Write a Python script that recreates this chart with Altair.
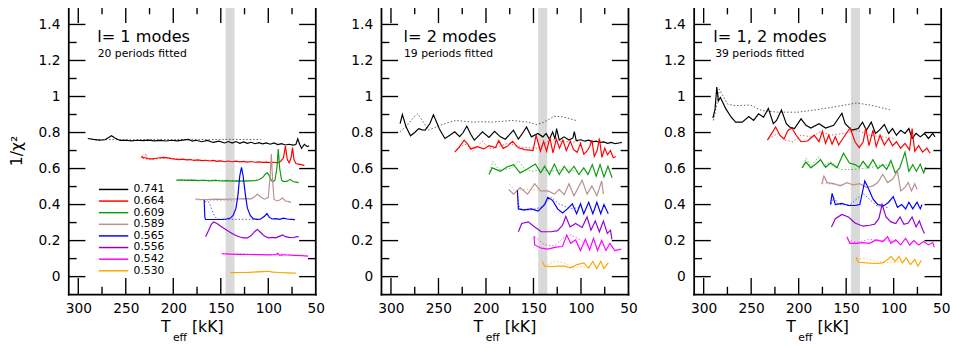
import altair as alt
import pandas as pd

FONT = "DejaVu Sans"
MASSES = ["0.741", "0.664", "0.609", "0.589", "0.565", "0.556", "0.542", "0.530"]
COLORS = ["#000000", "#ff0000", "#0f9a0f", "#bc8f8f", "#0000ff", "#9400d3", "#ff00ff", "#ffa500"]
TITLES = ["l= 1 modes", "l= 2 modes", "l= 1, 2 modes"]
SUBTITLES = ["20 periods fitted", "19 periods fitted", "39 periods fitted"]
X_LABELS = [300, 250, 200, 150, 100, 50]
Y_LABELS = [0, 0.2, 0.4, 0.6, 0.8, 1.0, 1.2, 1.4]
X_MAJOR = [300, 250, 200, 150, 100]
X_MINOR = [275, 225, 175, 125, 75]
Y_MAJOR = [0, 0.2, 0.4, 0.6, 0.8, 1.0, 1.2, 1.4]
Y_MINOR = [0.1, 0.3, 0.5, 0.7, 0.9, 1.1, 1.3]
BAND = [145, 135.5]

# ---------------- panel 1 : l = 1 ----------------
L1_741_T = [290, 284, 278, 272, 268, 265, 261, 256, 250, 244, 238, 232, 226, 220, 214, 208, 202, 196, 190, 184,
            180, 176, 170, 164, 158, 152, 146, 142, 138, 134, 130, 126, 122, 118, 114, 110, 106, 102, 98, 94,
            90, 86, 82, 78, 74, 71, 69, 67, 65, 62, 59, 57]
L1_741_V = [0.767, 0.762, 0.758, 0.760, 0.772, 0.782, 0.768, 0.756, 0.757, 0.754, 0.757, 0.755, 0.758, 0.754, 0.756,
            0.753, 0.757, 0.754, 0.758, 0.762, 0.752, 0.757, 0.749, 0.756, 0.745, 0.752, 0.742, 0.750, 0.741, 0.750,
            0.740, 0.748, 0.740, 0.746, 0.738, 0.744, 0.737, 0.742, 0.735, 0.742, 0.733, 0.738, 0.731, 0.735, 0.730,
            0.733, 0.765, 0.735, 0.712, 0.735, 0.722, 0.727]
L1_741_DT = [282, 262, 242, 222, 202, 182, 162, 142, 122, 108]
L1_741_DV = [0.760, 0.761, 0.760, 0.762, 0.761, 0.762, 0.761, 0.762, 0.761, 0.761]
L1_664_T = [234, 230, 226, 222, 218, 214, 210, 206, 202, 198, 194, 190, 186, 182, 178, 174, 170, 166, 162, 158,
            154, 150, 146, 142, 138, 134, 130, 126, 122, 118, 114, 110, 106, 102, 98, 94, 90, 87, 84, 82, 80, 78,
            76, 74.5, 73, 71, 68, 65, 62]
L1_664_V = [0.665, 0.660, 0.655, 0.654, 0.657, 0.660, 0.662, 0.659, 0.655, 0.652, 0.650, 0.652, 0.648, 0.650, 0.645,
            0.648, 0.644, 0.646, 0.642, 0.645, 0.640, 0.643, 0.638, 0.642, 0.638, 0.641, 0.637, 0.640, 0.636, 0.639,
            0.635, 0.637, 0.634, 0.636, 0.633, 0.635, 0.632, 0.640, 0.660, 0.725, 0.650, 0.632, 0.660, 0.716, 0.650,
            0.628, 0.625, 0.622, 0.616]
L1_664_DT = [233, 230, 227, 229, 233, 231, 226, 220, 212, 204, 196, 188, 180, 172, 164, 156, 150]
L1_664_DV = [0.668, 0.678, 0.676, 0.664, 0.660, 0.655, 0.650, 0.652, 0.656, 0.658, 0.654, 0.650, 0.648, 0.646, 0.645,
             0.644, 0.642]
L1_609_T = [197, 192, 186, 180, 174, 168, 162, 156, 150, 144, 138, 132, 126, 120, 114, 110, 106, 103, 101, 99, 97,
            95, 93, 91, 89.5, 88, 86, 84, 80, 77, 74, 71, 68]
L1_609_V = [0.535, 0.537, 0.534, 0.536, 0.533, 0.535, 0.532, 0.534, 0.531, 0.533, 0.530, 0.532, 0.530, 0.532, 0.533,
            0.538, 0.550, 0.570, 0.576, 0.560, 0.535, 0.528, 0.535, 0.600, 0.708, 0.600, 0.535, 0.528, 0.530, 0.540,
            0.528, 0.525, 0.522]
L1_609_DT = [196, 185, 175, 165, 155, 145, 135, 125, 115]
L1_609_DV = [0.537, 0.538, 0.536, 0.535, 0.536, 0.534, 0.534, 0.535, 0.534]
L1_589_T = [177, 172, 166, 160, 154, 148, 142, 136, 130, 124, 118, 114, 111.5, 108, 104, 100, 98, 96.8, 95.5, 94,
            91, 88, 85, 82, 79, 76]
L1_589_V = [0.431, 0.429, 0.428, 0.429, 0.430, 0.429, 0.430, 0.431, 0.432, 0.433, 0.432, 0.445, 0.458, 0.442, 0.430,
            0.440, 0.560, 0.680, 0.540, 0.430, 0.420, 0.425, 0.436, 0.420, 0.418, 0.412]
L1_589_DT = [176, 165, 155, 145, 135]
L1_589_DV = [0.425, 0.423, 0.422, 0.422, 0.421]
L1_565_T = [167.5, 166.8, 166, 160, 154, 148, 144, 140, 137, 134, 132, 130, 128.2, 126.5, 124, 122, 119, 116, 112,
            108, 104, 101.5, 99, 96, 92, 88, 84, 80, 76, 72]
L1_565_V = [0.425, 0.330, 0.318, 0.317, 0.317, 0.318, 0.320, 0.325, 0.340, 0.380, 0.450, 0.560, 0.607, 0.560, 0.450,
            0.380, 0.340, 0.322, 0.318, 0.320, 0.335, 0.350, 0.330, 0.320, 0.322, 0.318, 0.325, 0.320, 0.318, 0.316]
L1_565_DT = [167, 163, 161, 158, 155, 152, 145, 135, 125, 115, 108]
L1_565_DV = [0.418, 0.416, 0.395, 0.350, 0.326, 0.319, 0.318, 0.318, 0.318, 0.318, 0.318]
L1_556_T = [166, 163, 160, 157.5, 154, 150, 146, 142, 138, 134, 130, 126, 122, 118, 114, 111.5, 108, 104, 100, 96,
            92, 88, 85, 82, 78, 74, 70, 68]
L1_556_V = [0.222, 0.255, 0.290, 0.303, 0.295, 0.280, 0.266, 0.252, 0.240, 0.228, 0.220, 0.215, 0.215, 0.228, 0.252,
            0.262, 0.245, 0.225, 0.215, 0.218, 0.215, 0.225, 0.232, 0.222, 0.218, 0.216, 0.222, 0.222]
L1_542_T = [149, 140, 130, 120, 110, 100, 92, 90, 88, 85, 80, 72, 65, 58]
L1_542_V = [0.127, 0.125, 0.124, 0.123, 0.122, 0.121, 0.122, 0.130, 0.118, 0.121, 0.120, 0.118, 0.117, 0.114]
L1_542_DT = [148, 130, 115, 100, 88, 75]
L1_542_DV = [0.128, 0.126, 0.124, 0.122, 0.125, 0.121]
L1_530_T = [140, 130, 120, 112, 106, 100, 95, 88, 80, 71]
L1_530_V = [0.022, 0.023, 0.024, 0.026, 0.028, 0.030, 0.025, 0.023, 0.021, 0.019]
L1_530_DT = [138, 125, 110, 100, 92]
L1_530_DV = [0.022, 0.024, 0.027, 0.029, 0.022]

# ---------------- panel 2 : l = 2 ----------------
L2_741_T = [290.4, 288, 284, 279.4, 275, 270.8, 267, 264, 259, 255.3, 249, 243.2, 238, 232.9, 227.7, 224, 220.2,
            216, 212.3, 208, 203.7, 196.8, 191, 184.8, 179.7, 175, 171.1, 165.9, 161, 157.3, 152.2, 145.3, 140.1,
            136.7, 133.2, 129.8, 127.4, 125.7, 122.9, 117.8, 112.6, 108.5, 107, 105, 100, 96, 92, 88, 84, 80, 76,
            72, 68, 64, 60, 57]
L2_741_V = [0.849, 0.900, 0.830, 0.782, 0.800, 0.822, 0.815, 0.813, 0.850, 0.898, 0.820, 0.767, 0.785, 0.804, 0.777,
            0.800, 0.835, 0.790, 0.758, 0.780, 0.804, 0.773, 0.807, 0.776, 0.763, 0.790, 0.813, 0.763, 0.800, 0.831,
            0.776, 0.795, 0.776, 0.795, 0.763, 0.804, 0.763, 0.822, 0.758, 0.776, 0.758, 0.770, 0.805, 0.755, 0.760,
            0.752, 0.758, 0.748, 0.752, 0.745, 0.748, 0.740, 0.745, 0.738, 0.742, 0.745]
L2_741_DT = [290.4, 283, 276, 271.8, 266, 260.5, 255, 248.5, 240, 231.4, 222, 214.2, 204, 193.6, 183, 173, 164,
             155.8, 147.2, 140, 133, 128.3, 120, 111.1, 104]
L2_741_DV = [0.804, 0.840, 0.885, 0.904, 0.860, 0.813, 0.825, 0.840, 0.855, 0.867, 0.862, 0.858, 0.860, 0.858, 0.862,
             0.867, 0.862, 0.858, 0.844, 0.855, 0.875, 0.890, 0.888, 0.876, 0.865]
L2_664_T = [232.9, 228, 222.9, 219, 216, 209.2, 202.3, 196.8, 190, 186.5, 182, 178, 172, 166, 159, 154, 150.5, 147.2,
            142.7, 139.3, 136.2, 132.8, 129.4, 126, 122.6, 119.1, 115.4, 111.2, 107.8, 104, 100.5, 97, 94, 91, 88.5,
            86, 83, 80.6, 78, 75, 72, 69, 66, 63.4]
L2_664_V = [0.691, 0.720, 0.758, 0.735, 0.709, 0.722, 0.709, 0.727, 0.716, 0.755, 0.712, 0.722, 0.751, 0.715, 0.705,
            0.702, 0.700, 0.785, 0.696, 0.751, 0.696, 0.771, 0.687, 0.764, 0.713, 0.758, 0.700, 0.751, 0.705, 0.690,
            0.740, 0.680, 0.695, 0.720, 0.758, 0.667, 0.700, 0.767, 0.662, 0.713, 0.676, 0.700, 0.660, 0.667]
L2_664_DT = [231.3, 226, 221, 214, 209, 203.7, 198, 193.4, 185, 176, 169, 162.4, 154, 145.3, 138, 131.5, 124, 117.8,
             110, 104, 98]
L2_664_DV = [0.705, 0.725, 0.735, 0.696, 0.725, 0.751, 0.720, 0.709, 0.725, 0.742, 0.725, 0.718, 0.715, 0.713, 0.740,
             0.764, 0.750, 0.753, 0.745, 0.751, 0.740]
L2_609_T = [196.8, 193.4, 184.8, 177.9, 171, 164.1, 157.3, 148, 142.5, 138.3, 133.2, 128, 122.9, 117.7, 112.6, 107.4,
            102.2, 97.1, 92.6, 88.1, 84, 79.9, 75.8, 71.6, 67.2]
L2_609_V = [0.567, 0.604, 0.585, 0.609, 0.622, 0.576, 0.595, 0.625, 0.576, 0.613, 0.567, 0.625, 0.567, 0.613, 0.576,
            0.613, 0.567, 0.604, 0.567, 0.622, 0.558, 0.622, 0.553, 0.613, 0.549]
L2_609_DT = [196.1, 192.7, 186.5, 179.6, 172.7, 165.9, 159, 150.4, 141.8, 131.5, 117.7, 104]
L2_609_DV = [0.585, 0.640, 0.595, 0.595, 0.604, 0.644, 0.595, 0.585, 0.595, 0.585, 0.595, 0.585]
L2_589_T = [176.2, 171, 164.1, 156.2, 148.7, 142.5, 134.9, 128, 122.9, 117.7, 112.6, 107.4, 98.8, 93.6, 88.5, 83.3,
            78.2, 76.4]
L2_589_V = [0.485, 0.458, 0.495, 0.458, 0.516, 0.476, 0.476, 0.458, 0.485, 0.455, 0.516, 0.449, 0.535, 0.458, 0.504,
            0.449, 0.531, 0.458]
L2_589_DT = [175.5, 169.3, 159, 145.2]
L2_589_DV = [0.513, 0.476, 0.485, 0.480]
L2_565_T = [166.9, 165.9, 160.7, 152.1, 145.2, 138.3, 134.9, 129.7, 124.6, 119.4, 114.3, 109.1, 104.6, 100.5, 97.1,
            91.9, 87.5, 83.3, 79.2, 75.8, 71.3]
L2_565_V = [0.480, 0.376, 0.371, 0.376, 0.364, 0.400, 0.440, 0.422, 0.376, 0.353, 0.376, 0.404, 0.349, 0.404, 0.349,
            0.413, 0.349, 0.413, 0.349, 0.400, 0.349]
L2_565_DT = [166.9, 165.9, 160.7, 152.1, 141.8, 131.5, 122.9, 110.8, 100.5]
L2_565_DV = [0.467, 0.395, 0.367, 0.371, 0.385, 0.440, 0.404, 0.376, 0.385]
L2_556_T = [165.9, 162.4, 155.5, 148.7, 141.8, 131.5, 124.6, 119.4, 116, 111.5, 105.7, 98.8, 93.6, 89.5, 85, 80.6,
            76.4, 72.3, 68.9, 67.5]
L2_556_V = [0.249, 0.295, 0.304, 0.276, 0.249, 0.249, 0.255, 0.285, 0.335, 0.276, 0.295, 0.273, 0.331, 0.258, 0.309,
            0.249, 0.309, 0.240, 0.258, 0.207]
L2_542_T = [149.4, 148.7, 141.8, 134.9, 126.3, 119.4, 115, 110.8, 105.7, 100.5, 95.4, 90.9, 86.8, 82.6, 78.2, 73.7,
            69.6, 64.4, 57.5]
L2_542_V = [0.225, 0.176, 0.158, 0.153, 0.164, 0.167, 0.231, 0.185, 0.204, 0.145, 0.207, 0.149, 0.213, 0.145, 0.200,
            0.145, 0.185, 0.145, 0.153]
L2_542_DT = [148.7, 138.3, 128, 117.7, 110.8, 100.5, 93.6]
L2_542_DV = [0.222, 0.176, 0.171, 0.218, 0.231, 0.204, 0.167]
L2_530_T = [140.8, 138.3, 131.5, 124.6, 117.7, 110.8, 104, 97.1, 91.9, 87.5, 83.3, 79.2, 75.8, 71.3]
L2_530_V = [0.085, 0.058, 0.055, 0.058, 0.058, 0.049, 0.067, 0.076, 0.049, 0.085, 0.044, 0.085, 0.044, 0.076]
L2_530_DT = [134.9, 128, 117.7, 107.4, 97.1, 91.9]
L2_530_DV = [0.067, 0.085, 0.076, 0.049, 0.058, 0.044]

# ---------------- panel 3 : l = 1, 2 ----------------
L3_741_T = [290.3, 288, 286.2, 284.5, 282.4, 276.6, 271, 266.3, 259.4, 252.5, 247.4, 242.2, 237, 231.9, 226.7, 223.3,
            218.1, 213, 209.5, 204.4, 197.5, 192.3, 187.2, 178.6, 171.7, 163.1, 154.5, 151.1, 144.2, 137.3, 132.8,
            128.7, 123.6, 119.1, 115, 109.8, 105.3, 101.2, 97.1, 92.6, 88.1, 84, 80.6, 76.4, 72, 67.5, 63.4, 58.9,
            56.5]
L3_741_V = [0.880, 0.930, 1.053, 0.976, 0.995, 0.931, 0.885, 0.858, 0.858, 0.889, 0.867, 0.904, 0.885, 0.934, 0.849,
            0.867, 0.925, 0.849, 0.831, 0.822, 0.876, 0.840, 0.825, 0.849, 0.825, 0.840, 0.907, 0.849, 0.813, 0.822,
            0.858, 0.813, 0.858, 0.795, 0.813, 0.844, 0.795, 0.822, 0.785, 0.813, 0.795, 0.822, 0.767, 0.795, 0.776,
            0.795, 0.767, 0.795, 0.776]
L3_741_DT = [289.7, 286, 283.5, 274.9, 266.3, 250.8, 238.8, 221.6, 201, 180.3, 159.7, 139, 125.3, 104]
L3_741_DV = [0.867, 0.960, 1.040, 0.958, 0.949, 0.953, 0.922, 0.913, 0.913, 0.927, 0.945, 0.964, 0.953, 0.927]
L3_664_T = [232.9, 228.4, 224.3, 219.8, 215.4, 211.2, 207.1, 202.6, 197.5, 190.6, 183.7, 178.6, 175.1, 171.7, 168.3,
            164.8, 161.4, 157.9, 153.5, 145.9, 140.7, 136.3, 132.1, 129.4, 126, 121.8, 118.4, 114.3, 109.8, 105.3,
            101.2, 97.1, 92.6, 88.1, 83.3, 80.6, 77.8, 73.7, 69.6, 65.1, 61.6]
L3_664_V = [0.758, 0.795, 0.831, 0.785, 0.764, 0.813, 0.825, 0.785, 0.749, 0.753, 0.785, 0.749, 0.807, 0.740, 0.785,
            0.735, 0.776, 0.731, 0.767, 0.825, 0.749, 0.716, 0.749, 0.825, 0.727, 0.813, 0.722, 0.785, 0.731, 0.767,
            0.727, 0.749, 0.713, 0.740, 0.704, 0.822, 0.695, 0.727, 0.691, 0.713, 0.685]
L3_664_DT = [231.9, 221.6, 214.7, 206, 197.5, 187.2, 176.9, 166.5, 152.8, 139, 125.3, 111.5, 97.8]
L3_664_DV = [0.767, 0.795, 0.758, 0.749, 0.785, 0.776, 0.804, 0.785, 0.795, 0.813, 0.785, 0.776, 0.767]
L3_609_T = [196.5, 192.3, 187.2, 182, 176.9, 171.7, 166.5, 159.7, 152.8, 146.6, 140.7, 136.3, 132.1, 127, 121.8,
            116.7, 111.5, 107.4, 102.9, 98.4, 93.6, 88.1, 84, 79.9, 76.1, 72, 68.5, 66.1]
L3_609_V = [0.604, 0.636, 0.604, 0.625, 0.649, 0.607, 0.631, 0.604, 0.685, 0.631, 0.622, 0.607, 0.640, 0.604, 0.649,
            0.600, 0.622, 0.595, 0.644, 0.576, 0.604, 0.691, 0.585, 0.622, 0.585, 0.625, 0.576, 0.607]
L3_609_DT = [195.8, 192.3, 187.2, 178.6, 173.4, 166.5, 156.2, 142.5, 125.3, 111.5, 97.8]
L3_609_DV = [0.604, 0.658, 0.613, 0.667, 0.613, 0.640, 0.595, 0.595, 0.604, 0.622, 0.613]
L3_589_T = [175.8, 173.4, 170, 163.1, 156.2, 149.3, 142.5, 135.6, 128.7, 121.8, 116.7, 111.5, 106.4, 101.2, 96, 92.6,
            88.1, 84.7, 81.2, 77.8, 75.4]
L3_589_V = [0.513, 0.558, 0.522, 0.516, 0.504, 0.522, 0.509, 0.516, 0.495, 0.504, 0.522, 0.567, 0.522, 0.540, 0.585,
            0.476, 0.495, 0.522, 0.476, 0.516, 0.485]
L3_589_DT = [175.1, 166.5, 152.8]
L3_589_DV = [0.522, 0.513, 0.509]
L3_565_T = [166.5, 164.8, 161.4, 154.5, 147.6, 140.7, 135.6, 130.4, 127, 121.8, 116.7, 109.8, 105.3, 100.5, 96, 91.6,
            87.4, 84, 79.9, 75.4, 72, 70.2]
L3_565_V = [0.400, 0.462, 0.400, 0.407, 0.395, 0.395, 0.400, 0.531, 0.495, 0.431, 0.400, 0.395, 0.413, 0.444, 0.385,
            0.400, 0.376, 0.413, 0.376, 0.413, 0.376, 0.400]
L3_565_DT = [165.8, 163.1, 157.9, 145.9, 132.1, 118.4, 104.6]
L3_565_DV = [0.404, 0.440, 0.400, 0.400, 0.462, 0.395, 0.382]
L3_556_T = [165.5, 161.4, 154.5, 147.6, 140.7, 132.1, 125.3, 120.1, 115.6, 112.2, 108.1, 102.9, 97.8, 93.3, 89.2,
            84.7, 80.6, 76.4, 73, 69.6, 67.5]
L3_556_V = [0.276, 0.322, 0.345, 0.331, 0.298, 0.280, 0.285, 0.291, 0.322, 0.400, 0.331, 0.304, 0.295, 0.331, 0.291,
            0.298, 0.331, 0.276, 0.309, 0.262, 0.240]
L3_542_T = [149.3, 145.9, 139, 132.1, 125.3, 118.4, 111.5, 106.4, 102.9, 97.8, 92.6, 87.4, 83.3, 78.8, 73.7, 68.5,
            63.4, 58.9, 57.2]
L3_542_V = [0.222, 0.185, 0.185, 0.189, 0.185, 0.204, 0.195, 0.222, 0.185, 0.204, 0.176, 0.213, 0.176, 0.200, 0.176,
            0.195, 0.176, 0.189, 0.164]
L3_542_DT = [148.7, 139, 125.3, 111.5, 97.8]
L3_542_DV = [0.204, 0.189, 0.207, 0.200, 0.195]
L3_530_T = [139.7, 137.3, 128.7, 118.4, 111.5, 106.4, 102.9, 98.4, 94.3, 90.9, 86.8, 82.3, 77.8, 74.4, 71]
L3_530_V = [0.109, 0.080, 0.076, 0.073, 0.076, 0.095, 0.113, 0.085, 0.113, 0.076, 0.104, 0.067, 0.095, 0.058, 0.091]
L3_530_DT = [139, 132.1, 118.4, 104.6, 90.9]
L3_530_DV = [0.095, 0.104, 0.085, 0.076, 0.085]

SERIES = [
    (1, "0.741", "s", L1_741_T, L1_741_V), (1, "0.741", "d", L1_741_DT, L1_741_DV),
    (1, "0.664", "s", L1_664_T, L1_664_V), (1, "0.664", "d", L1_664_DT, L1_664_DV),
    (1, "0.609", "s", L1_609_T, L1_609_V), (1, "0.609", "d", L1_609_DT, L1_609_DV),
    (1, "0.589", "s", L1_589_T, L1_589_V), (1, "0.589", "d", L1_589_DT, L1_589_DV),
    (1, "0.565", "s", L1_565_T, L1_565_V), (1, "0.565", "d", L1_565_DT, L1_565_DV),
    (1, "0.556", "s", L1_556_T, L1_556_V),
    (1, "0.542", "s", L1_542_T, L1_542_V), (1, "0.542", "d", L1_542_DT, L1_542_DV),
    (1, "0.530", "s", L1_530_T, L1_530_V), (1, "0.530", "d", L1_530_DT, L1_530_DV),
    (2, "0.741", "s", L2_741_T, L2_741_V), (2, "0.741", "d", L2_741_DT, L2_741_DV),
    (2, "0.664", "s", L2_664_T, L2_664_V), (2, "0.664", "d", L2_664_DT, L2_664_DV),
    (2, "0.609", "s", L2_609_T, L2_609_V), (2, "0.609", "d", L2_609_DT, L2_609_DV),
    (2, "0.589", "s", L2_589_T, L2_589_V), (2, "0.589", "d", L2_589_DT, L2_589_DV),
    (2, "0.565", "s", L2_565_T, L2_565_V), (2, "0.565", "d", L2_565_DT, L2_565_DV),
    (2, "0.556", "s", L2_556_T, L2_556_V),
    (2, "0.542", "s", L2_542_T, L2_542_V), (2, "0.542", "d", L2_542_DT, L2_542_DV),
    (2, "0.530", "s", L2_530_T, L2_530_V), (2, "0.530", "d", L2_530_DT, L2_530_DV),
    (3, "0.741", "s", L3_741_T, L3_741_V), (3, "0.741", "d", L3_741_DT, L3_741_DV),
    (3, "0.664", "s", L3_664_T, L3_664_V), (3, "0.664", "d", L3_664_DT, L3_664_DV),
    (3, "0.609", "s", L3_609_T, L3_609_V), (3, "0.609", "d", L3_609_DT, L3_609_DV),
    (3, "0.589", "s", L3_589_T, L3_589_V), (3, "0.589", "d", L3_589_DT, L3_589_DV),
    (3, "0.565", "s", L3_565_T, L3_565_V), (3, "0.565", "d", L3_565_DT, L3_565_DV),
    (3, "0.556", "s", L3_556_T, L3_556_V),
    (3, "0.542", "s", L3_542_T, L3_542_V), (3, "0.542", "d", L3_542_DT, L3_542_DV),
    (3, "0.530", "s", L3_530_T, L3_530_V), (3, "0.530", "d", L3_530_DT, L3_530_DV),
]

rows = []
for p, m, st, ts, vs in SERIES:
    for i, (t, v) in enumerate(zip(ts, vs)):
        rows.append({"panel": p, "mass": m, "style": st, "idx": i, "T": t, "v": v})
DF = pd.DataFrame(rows)

# ---------------- layout ----------------
W, H = 252, 294
XS = alt.Scale(domain=[50, 310], reverse=True, nice=False, zero=False)
YS = alt.Scale(domain=[-0.1, 1.5], nice=False, zero=False)
CS = alt.Scale(domain=MASSES, range=COLORS)

XAXIS = alt.Axis(values=X_LABELS, title=None, ticks=False, domain=False, grid=False, labelPadding=7,
                 labelFlush=False, labelFontSize=14, labelFont=FONT, labelColor="black", format="d")


def yaxis(title):
    kw = dict(values=Y_LABELS, ticks=False, domain=False, grid=False, labelPadding=9, labelFontSize=14,
              labelFont=FONT, labelColor="black", format=".1~f")
    if title:
        return alt.Axis(title=title, titleFontSize=16, titleFont=FONT, titleFontWeight="normal",
                        titleColor="black", titlePadding=14, **kw)
    return alt.Axis(title=None, **kw)


def X(f):
    return alt.X(f"{f}:Q", scale=XS, axis=XAXIS)


def Y(f, ax):
    return alt.Y(f"{f}:Q", scale=YS, axis=ax)


TITLE_X = [29, 22.5, 19.5]
SUB_X = [29.5, 23, 21.5]
LEG_TOP, LEG_STEP = 0.484, 0.0645
LEG_DF = pd.DataFrame({"mass": MASSES, "lv": [LEG_TOP - i * LEG_STEP for i in range(len(MASSES))],
                       "x0": 278.3, "x1": 247.4, "xl": 241.8})
ONE = pd.DataFrame({"k": [0]})


def text_layer(s, x, y, size):
    return alt.Chart(pd.DataFrame({"s": [s]})).mark_text(
        align="left", baseline="alphabetic", fontSize=size, font=FONT, color="black"
    ).encode(x=alt.value(x), y=alt.value(y), text="s:N")


def frame_layers():
    out = []
    for enc in [dict(x=alt.value(0), x2=alt.value(W), y=alt.value(0)),
                dict(x=alt.value(0), x2=alt.value(W), y=alt.value(H)),
                dict(y=alt.value(0), y2=alt.value(H), x=alt.value(0)),
                dict(y=alt.value(0), y2=alt.value(H), x=alt.value(W))]:
        out.append(alt.Chart(ONE).mark_rule(color="black", strokeWidth=1.8, strokeCap="square").encode(**enc))
    return out


def panel(p):
    yax = yaxis("1/χ²" if p == 1 else None)
    d = DF[DF.panel == p]
    layers = []
    layers.append(alt.Chart(pd.DataFrame({"t0": [BAND[0]], "t1": [BAND[1]]})).mark_rect(color="#d9d9d9").encode(
        x=X("t0"), x2="t1", y=alt.value(0), y2=alt.value(H)))
    layers.append(alt.Chart(d).transform_filter("datum.style == 'd'").mark_line(
        strokeWidth=1, strokeDash=[1.5, 2], opacity=0.65).encode(
        x=X("T"), y=Y("v", yax), color=alt.Color("mass:N", scale=CS, legend=None), order="idx:Q"))
    layers.append(alt.Chart(d).transform_filter("datum.style == 's'").mark_line(strokeWidth=1.2).encode(
        x=X("T"), y=Y("v", yax), color=alt.Color("mass:N", scale=CS, legend=None), order="idx:Q"))
    for vals, ln in [(Y_MAJOR, 17), (Y_MINOR, 8)]:
        tdf = pd.DataFrame({"v": vals})
        layers.append(alt.Chart(tdf).mark_rule(color="black", strokeWidth=1.4).encode(
            y=Y("v", yax), x=alt.value(0), x2=alt.value(ln)))
        layers.append(alt.Chart(tdf).mark_rule(color="black", strokeWidth=1.4).encode(
            y=Y("v", yax), x=alt.value(W - ln), x2=alt.value(W)))
    for vals, ln in [(X_MAJOR, 17), (X_MINOR, 8)]:
        tdf = pd.DataFrame({"t": vals})
        layers.append(alt.Chart(tdf).mark_rule(color="black", strokeWidth=1.4).encode(
            x=X("t"), y=alt.value(H - ln), y2=alt.value(H)))
        layers.append(alt.Chart(tdf).mark_rule(color="black", strokeWidth=1.4).encode(
            x=X("t"), y=alt.value(0), y2=alt.value(ln)))
    layers.extend(frame_layers())
    layers.append(text_layer(TITLES[p - 1], TITLE_X[p - 1], 36.7, 16.5))
    layers.append(text_layer(SUBTITLES[p - 1], SUB_X[p - 1], 51.5, 11))
    layers.append(text_layer("T", 94, 332.3, 16))
    layers.append(text_layer("eff", 106.3, 341.5, 11))
    layers.append(text_layer("[kK]", 125.7, 332.3, 16))
    if p == 1:
        layers.append(alt.Chart(LEG_DF).mark_rule(strokeWidth=1.5).encode(
            x=X("x0"), x2="x1", y=Y("lv", yax), color=alt.Color("mass:N", scale=CS, legend=None)))
        layers.append(alt.Chart(LEG_DF).mark_text(align="left", baseline="middle", fontSize=11, font=FONT,
                                                  color="black").encode(
            x=X("xl"), y=Y("lv", yax), text="mass:N"))
    return alt.layer(*layers).properties(width=W, height=H)


chart = alt.hconcat(panel(1), panel(2), panel(3), spacing=26).properties(
    padding={"left": 0, "top": -7, "right": 0, "bottom": 0}, background="white"
).configure_view(strokeWidth=0)

chart.save("out.html", embed_options={"renderer": "svg", "actions": False})
